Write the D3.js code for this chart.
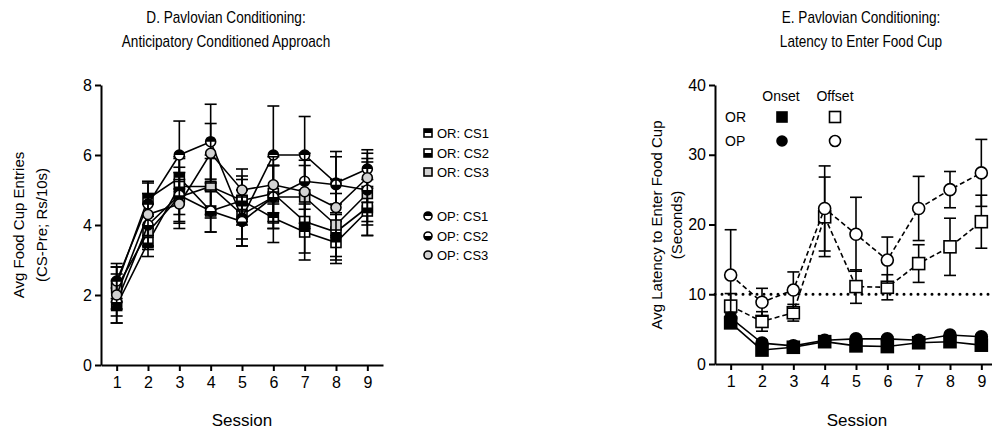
<!DOCTYPE html>
<html>
<head>
<meta charset="utf-8">
<script src="https://cdn.jsdelivr.net/npm/d3@7/dist/d3.min.js"></script>
<style>
  body { margin: 0; background: #fff; }
  text { font-family: Arial, "Liberation Sans", sans-serif; fill: #000; }
</style>
</head>
<body>
<div id="chart"></div>
<script>
// data
var sessions = [1, 2, 3, 4, 5, 6, 7, 8, 9];

// panel D: avg food cup entries (CS-Pre; Rs/10s)
var orCs1 = [2.3, 4.75, 5.35, 4.4, 4.7, 4.2, 3.8, 3.5, 4.4];
var orCs1Err = [0.5, 0.5, 0.6, 0.6, 0.6, 0.7, 0.8, 0.6, 0.7];
var orCs2 = [1.7, 3.5, 5.1, 5.1, 4.7, 4.9, 4.1, 3.8, 4.5];
var orCs2Err = [0.5, 0.4, 0.8, 0.8, 0.7, 0.8, 0.9, 0.8, 0.8];
var orCs3 = [2.2, 3.8, 4.8, 5.1, 4.3, 4.8, 4.8, 4.0, 4.9];
var orCs3Err = [0.6, 0.5, 0.7, 0.9, 0.7, 0.9, 0.9, 0.9, 0.9];
var opCs1 = [2.4, 4.6, 6.0, 6.38, 4.2, 6.0, 6.0, 5.2, 5.6];
var opCs1Err = [0.5, 0.6, 0.97, 1.07, 0.8, 1.4, 1.1, 0.9, 0.55];
var opCs2 = [1.8, 4.0, 4.85, 4.4, 4.1, 4.8, 5.25, 5.15, 5.0];
var opCs2Err = [0.6, 0.6, 0.8, 0.6, 0.7, 0.9, 0.8, 0.8, 0.9];
var opCs3 = [2.0, 4.3, 4.6, 6.05, 5.0, 5.15, 4.95, 4.5, 5.35];
var opCs3Err = [0.6, 0.6, 0.7, 0.85, 0.6, 0.8, 0.9, 0.8, 0.7];

// panel E: latency to enter food cup (seconds)
var orOnset = [5.9, 2.0, 2.4, 3.2, 2.6, 2.5, 3.05, 3.2, 2.7];
var orOnsetErr = [0.6, 0.4, 0.3, 0.4, 0.3, 0.3, 0.3, 0.3, 0.3];
var opOnset = [6.6, 3.0, 2.6, 3.4, 3.6, 3.6, 3.4, 4.15, 3.9];
var opOnsetErr = [0.7, 0.4, 0.3, 0.4, 0.3, 0.3, 0.3, 0.3, 0.3];
var orOffset = [8.3, 6.1, 7.35, 21.1, 11.1, 11.0, 14.4, 16.8, 20.4];
var orOffsetErr = [1.8, 1.4, 1.2, 5.7, 2.4, 1.8, 2.7, 4.1, 3.8];
var opOffset = [12.75, 8.85, 10.6, 22.3, 18.6, 14.9, 22.3, 25.0, 27.4];
var opOffsetErr = [6.5, 2.0, 2.6, 6.1, 5.3, 3.3, 4.6, 2.6, 4.8];

var yTicksD = [0, 2, 4, 6, 8];
var yTicksE = [0, 10, 20, 30, 40];
var criterion = 10;

var svg = d3.select("#chart").append("svg")
  .attr("width", 992)
  .attr("height", 432);

var grey = "#d2d2d2";

// marker painter: shape = square|circle, fill = top|bottom|grey|black|white
function drawMarker(g, shape, fill, size) {
  var h = size / 2;
  if (shape == "square") {
    g.append("rect").attr("x", -h).attr("y", -h).attr("width", size).attr("height", size)
      .attr("fill", fill == "grey" ? grey : fill == "black" ? "#000" : "#fff")
      .attr("stroke", "#000").attr("stroke-width", 1.6);
    if (fill == "top" || fill == "bottom") {
      g.append("rect").attr("x", -h).attr("y", fill == "top" ? -h : 0)
        .attr("width", size).attr("height", h).attr("fill", "#000");
    }
  } else {
    g.append("circle").attr("r", h)
      .attr("fill", fill == "grey" ? grey : fill == "black" ? "#000" : "#fff")
      .attr("stroke", "#000").attr("stroke-width", 1.6);
    if (fill == "top") {
      g.append("path").attr("d", `M${-h},0A${h},${h} 0 0 1 ${h},0Z`).attr("fill", "#000");
    } else if (fill == "bottom") {
      g.append("path").attr("d", `M${-h},0A${h},${h} 0 0 0 ${h},0Z`).attr("fill", "#000");
    }
  }
}

function drawSeries(g, x, y, s, opts) {
  var pts = sessions.map((d, i) => ({ s: d, v: s.vals[i], e: s.err[i] }));
  // error bars
  var eb = g.append("g");
  pts.forEach(function(p) {
    var cx = x(p.s);
    eb.append("line").attr("x1", cx).attr("x2", cx)
      .attr("y1", y(p.v - p.e)).attr("y2", y(p.v + p.e))
      .attr("stroke", "#000").attr("stroke-width", opts.lw);
    [p.v - p.e, p.v + p.e].forEach(function(v) {
      eb.append("line").attr("x1", cx - opts.cap).attr("x2", cx + opts.cap)
        .attr("y1", y(v)).attr("y2", y(v))
        .attr("stroke", "#000").attr("stroke-width", opts.lw);
    });
  });
  g.append("path").datum(pts)
    .attr("fill", "none").attr("stroke", "#000").attr("stroke-width", opts.lw)
    .attr("stroke-dasharray", s.dash || null)
    .attr("d", d3.line().x(d => x(d.s)).y(d => y(d.v)));
  pts.forEach(function(p) {
    var m = g.append("g").attr("transform", `translate(${x(p.s)},${y(p.v)})`);
    drawMarker(m, s.shape, s.fill, opts.size);
  });
}

function axes(g, x, y, yTicks, x0, y0) {
  g.append("g").attr("transform", `translate(0,${y0})`)
    .call(d3.axisBottom(x).tickValues(sessions).tickSize(6).tickSizeOuter(0).tickPadding(6))
    .call(a => a.select(".domain").attr("stroke-width", 2))
    .call(a => a.selectAll(".tick line").attr("stroke-width", 2))
    .call(a => a.selectAll("text").attr("font-size", 16).attr("font-family", "Arial, 'Liberation Sans', sans-serif"));
  g.append("g").attr("transform", `translate(${x0},0)`)
    .call(d3.axisLeft(y).tickValues(yTicks).tickSize(6).tickSizeOuter(0).tickPadding(3))
    .call(a => a.select(".domain").attr("stroke-width", 2))
    .call(a => a.selectAll(".tick line").attr("stroke-width", 2))
    .call(a => a.selectAll("text").attr("font-size", 16).attr("font-family", "Arial, 'Liberation Sans', sans-serif"));
}

// narrow title text, like the figure's condensed face
function title(g, cx, y, str) {
  g.append("text").attr("transform", `translate(${cx},${y}) scale(0.85,1)`)
    .attr("text-anchor", "middle").attr("font-size", 16).text(str);
}

// ---------- panel D ----------
var xD = d3.scaleLinear().domain([0.5, 9.5]).range([101, 383]);
var yD = d3.scaleLinear().domain([0, 8]).range([365, 85]);
var gD = svg.append("g");

var seriesD = [
  { name: "OR: CS1", vals: orCs1, err: orCs1Err, shape: "square", fill: "top" },
  { name: "OR: CS2", vals: orCs2, err: orCs2Err, shape: "square", fill: "bottom" },
  { name: "OR: CS3", vals: orCs3, err: orCs3Err, shape: "square", fill: "grey" },
  { name: "OP: CS1", vals: opCs1, err: opCs1Err, shape: "circle", fill: "top" },
  { name: "OP: CS2", vals: opCs2, err: opCs2Err, shape: "circle", fill: "bottom" },
  { name: "OP: CS3", vals: opCs3, err: opCs3Err, shape: "circle", fill: "grey" }
];
seriesD.forEach(s => drawSeries(gD, xD, yD, s, { lw: 1.6, cap: 6, size: 10 }));
axes(gD, xD, yD, yTicksD, 101, 365);

title(gD, 226, 23, "D. Pavlovian Conditioning:");
title(gD, 226, 47, "Anticipatory Conditioned Approach");
gD.append("text").attr("x", 242).attr("y", 426).attr("text-anchor", "middle")
  .attr("font-size", 17).text("Session");
gD.append("text").attr("transform", "translate(24,225) rotate(-90)").attr("text-anchor", "middle")
  .attr("font-size", 15).text("Avg Food Cup Entries");
gD.append("text").attr("transform", "translate(47,225) rotate(-90)").attr("text-anchor", "middle")
  .attr("font-size", 15).text("(CS-Pre; Rs/10s)");

var legY = [133, 153, 172, 216, 236, 255];
seriesD.forEach(function(s, i) {
  var m = gD.append("g").attr("transform", `translate(428,${legY[i]})`);
  drawMarker(m, s.shape, s.fill, 8);
  gD.append("text").attr("x", 437).attr("y", legY[i] + 5).attr("font-size", 13).text(s.name);
});

// ---------- panel E ----------
var xE = d3.scaleLinear().domain([0.5, 9.5]).range([715, 997]);
var yE = d3.scaleLinear().domain([0, 40]).range([364, 85]);
var gE = svg.append("g");

gE.append("line").attr("x1", xE(0.5)).attr("x2", 992)
  .attr("y1", yE(criterion)).attr("y2", yE(criterion))
  .attr("stroke", "#000").attr("stroke-width", 3)
  .attr("stroke-linecap", "round").attr("stroke-dasharray", "0,7");

var seriesE = [
  { vals: orOffset, err: orOffsetErr, shape: "square", fill: "white", dash: "5,3" },
  { vals: opOffset, err: opOffsetErr, shape: "circle", fill: "white", dash: "5,3" },
  { vals: orOnset, err: orOnsetErr, shape: "square", fill: "black" },
  { vals: opOnset, err: opOnsetErr, shape: "circle", fill: "black" }
];
seriesE.forEach(s => drawSeries(gE, xE, yE, s, { lw: 1.6, cap: 6, size: 12 }));
axes(gE, xE, yE, yTicksE, 715, 364);

title(gE, 861, 23, "E. Pavlovian Conditioning:");
title(gE, 861, 47, "Latency to Enter Food Cup");
gE.append("text").attr("x", 857).attr("y", 426).attr("text-anchor", "middle")
  .attr("font-size", 17).text("Session");
gE.append("text").attr("transform", "translate(662,225) rotate(-90)").attr("text-anchor", "middle")
  .attr("font-size", 15).text("Avg Latency to Enter Food Cup");
gE.append("text").attr("transform", "translate(682,225) rotate(-90)").attr("text-anchor", "middle")
  .attr("font-size", 15).text("(Seconds)");

// legend grid
gE.append("text").attr("x", 781).attr("y", 101).attr("text-anchor", "middle").attr("font-size", 14).text("Onset");
gE.append("text").attr("x", 835).attr("y", 101).attr("text-anchor", "middle").attr("font-size", 14).text("Offset");
gE.append("text").attr("x", 725).attr("y", 122).attr("font-size", 14).text("OR");
gE.append("text").attr("x", 725).attr("y", 146).attr("font-size", 14).text("OP");
drawMarker(gE.append("g").attr("transform", "translate(782,117)"), "square", "black", 10);
drawMarker(gE.append("g").attr("transform", "translate(835,117)"), "square", "white", 11);
drawMarker(gE.append("g").attr("transform", "translate(782,141)"), "circle", "black", 10);
drawMarker(gE.append("g").attr("transform", "translate(835,141)"), "circle", "white", 11);
</script>
</body>
</html>
